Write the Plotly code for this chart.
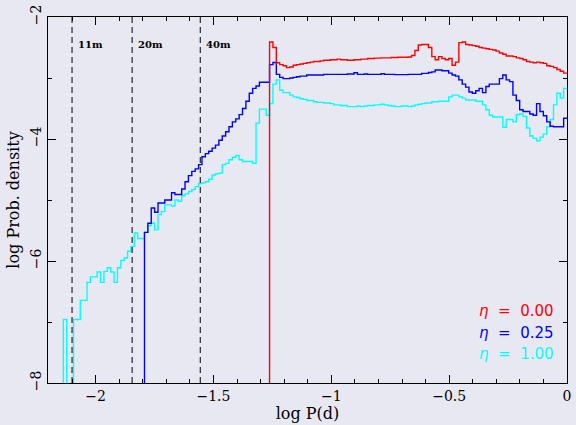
import plotly.graph_objects as go

# Histogram binning in log10 P (days)
BIN_W = 0.014341
START_RED = -1.2620
START_BLUE = -1.7926
START_CYAN = -2.1368
EMPTY = -9.0  # empty bin (log of zero), falls below the frame

# log probability density per bin
RED = [-2.41, -2.50, -2.75, -2.78, -2.80, -2.83, -2.82, -2.79, -2.78, -2.77,
       -2.76, -2.75, -2.74, -2.73, -2.73, -2.72, -2.71, -2.71, -2.70, -2.70,
       -2.69, -2.70, -2.70, -2.71, -2.71, -2.70, -2.70, -2.69, -2.69, -2.68,
       -2.68, -2.675, -2.675, -2.67, -2.67, -2.67, -2.665, -2.665, -2.66, -2.66,
       -2.66, -2.655, -2.63, -2.55, -2.46, -2.45, -2.45, -2.50, -2.65, -2.70,
       -2.65, -2.68, -2.70, -2.68, -2.79, -2.74, -2.42, -2.41, -2.45, -2.46,
       -2.47, -2.48, -2.50, -2.51, -2.52, -2.53, -2.54, -2.56, -2.59, -2.61,
       -2.64, -2.64, -2.65, -2.67, -2.68, -2.70, -2.73, -2.74, -2.75, -2.74,
       -2.75, -2.76, -2.80, -2.81, -2.83, -2.86, -2.89, -2.92]

BLUE = [-5.53, -5.38, -5.13, -5.20, -5.05, -5.05, -5.00, -5.00, -4.88, -4.91,
        -4.91, -4.82, -4.70, -4.60, -4.53, -4.49, -4.42, -4.29, -4.24, -4.20,
        -4.15, -4.10, -4.02, -3.95, -3.88, -3.80, -3.72, -3.67, -3.60, -3.50,
        -3.38, -3.25, -3.17, -3.13, -3.07, -3.07, -3.07, -2.78, -2.745, -2.94,
        -2.99, -3.01, -3.01, -3.00, -2.99, -2.98, -2.97, -2.97, -2.95, -2.95,
        -2.95, -2.95, -2.95, -2.94, -2.94, -2.94, -2.94, -2.94, -2.94, -2.94,
        -2.935, -2.935, -2.915, -2.94, -2.94, -2.935, -2.94, -2.94, -2.94, -2.94,
        -2.93, -2.94, -2.94, -2.94, -2.945, -2.945, -2.945, -2.945, -2.94, -2.94,
        -2.94, -2.94, -2.925, -2.925, -2.91, -2.90, -2.87, -2.87, -2.88, -2.88,
        -2.92, -2.95, -2.97, -3.03, -3.10, -3.15, -3.23, -3.25, -3.21, -3.17,
        -3.24, -3.14, -3.10, -3.10, -3.10, -3.01, -2.95, -3.03, -3.06, -3.28,
        -3.37, -3.52, -3.55, -3.55, -3.59, -3.61, -3.42, -3.55, -3.62, -3.72,
        -3.79, -3.80, -3.80, -3.80, -3.66]

CYAN = [-6.96, EMPTY, EMPTY, -6.96, -6.96, -6.645, -6.645, -6.35, -6.26, -6.26,
        -6.18, -6.35, -6.17, -6.11, -6.18, -6.35, -6.11, -5.99, -5.95, -5.84,
        -5.76, -5.54, -5.63, -5.63, -5.53, -5.42, -5.38, -5.49, -5.24, -5.19,
        -5.08, -5.08, -5.10, -5.00, -5.02, -4.93, -4.90, -4.86, -4.83, -4.78,
        -4.73, -4.72, -4.70, -4.66, -4.59, -4.57, -4.56, -4.42, -4.40, -4.34,
        -4.30, -4.27, -4.34, -4.37, -4.37, -4.37, -4.40, -3.74, -3.51, -3.51,
        -3.61, -3.42, -3.10, -3.03, -3.20, -3.24, -3.24, -3.28, -3.31, -3.32,
        -3.34, -3.35, -3.37, -3.37, -3.39, -3.40, -3.40, -3.41, -3.41, -3.42,
        -3.44, -3.44, -3.45, -3.45, -3.47, -3.47, -3.47, -3.46, -3.47, -3.46,
        -3.45, -3.45, -3.44, -3.44, -3.43, -3.44, -3.45, -3.46, -3.47, -3.47,
        -3.46, -3.46, -3.47, -3.46, -3.44, -3.43, -3.42, -3.41, -3.41, -3.39,
        -3.39, -3.38, -3.38, -3.38, -3.31, -3.28, -3.28, -3.31, -3.33, -3.36,
        -3.36, -3.36, -3.38, -3.38, -3.44, -3.52, -3.61, -3.64, -3.64, -3.64,
        -3.81, -3.68, -3.68, -3.72, -3.60, -3.59, -3.63, -3.82, -3.95, -3.99,
        -4.03, -3.97, -3.92, -3.80, -3.68, -3.44, -3.25, -3.33, -3.17]

ETA_LABELS = ["0.00", "0.25", "1.00"]
COLORS = ["#ff0000", "#0000ff", "#00ffff"]

# Orbital periods of reference, log10(P / d)
MARK_X = [-2.100, -1.845, -1.556]
MARK_TEXT = ["11m", "20m", "40m"]

BG = "#e8e8f2"
SERIF = "DejaVu Serif"


def step_xy(start, values):
    """Edges and heights for a histogram drawn as a stepped outline,
    rising from below the frame at its first edge."""
    n = len(values)
    edges = [start + i * BIN_W for i in range(n + 1)]
    xs = [edges[0]] + edges
    ys = [EMPTY] + list(values) + [values[-1]]
    return xs, ys


fig = go.Figure()

for start, vals, col in [(START_CYAN, CYAN, COLORS[2]),
                         (START_BLUE, BLUE, COLORS[1]),
                         (START_RED, RED, COLORS[0])]:
    xs, ys = step_xy(start, vals)
    fig.add_trace(go.Scatter(x=xs, y=ys, mode="lines", line_shape="hv",
                             line=dict(color=col, width=1.4),
                             showlegend=False, hoverinfo="skip"))

for xv, txt in zip(MARK_X, MARK_TEXT):
    fig.add_shape(type="line", xref="x", yref="paper", x0=xv, x1=xv, y0=0, y1=1,
                  line=dict(color="black", width=1, dash="6px,4px"))
    fig.add_annotation(x=xv, y=0.926, xref="x", yref="paper", text="<b>%s</b>" % txt,
                       showarrow=False, xanchor="left", yanchor="middle", xshift=4,
                       font=dict(family=SERIF, size=10, color="black"))

for i, (lab, col) in enumerate(zip(ETA_LABELS, COLORS)):
    fig.add_annotation(x=0.978, y=0.196 - i * 0.0585, xref="paper", yref="paper",
                       text="<i>η</i>  =  %s" % lab, showarrow=False,
                       xanchor="right", yanchor="middle",
                       font=dict(family="DejaVu Sans", size=15, color=col))

axis_common = dict(showline=True, linecolor="black", linewidth=1, mirror="allticks",
                   ticks="inside", ticklen=8, tickcolor="black", tickwidth=1,
                   showgrid=False, zeroline=False,
                   tickfont=dict(family=SERIF, size=14, color="black"))

fig.update_xaxes(range=[-2.202, 0], dtick=0.5, tick0=0,
                 minor=dict(dtick=0.1, tick0=0, ticks="inside", ticklen=4,
                            tickcolor="black", showgrid=False),
                 title=dict(text="log P(d)", font=dict(family=SERIF, size=16, color="black"),
                            standoff=2),
                 **axis_common)
fig.update_yaxes(range=[-8, -2], dtick=2, tick0=0, tickangle=-90,
                 minor=dict(dtick=1, tick0=0, ticks="inside", ticklen=4,
                            tickcolor="black", showgrid=False),
                 title=dict(text="log Prob. density", font=dict(family=SERIF, size=16, color="black"),
                            standoff=4),
                 **axis_common)

fig.update_layout(width=576, height=425, margin=dict(l=48, r=5, t=17, b=42),
                  paper_bgcolor=BG, plot_bgcolor=BG, showlegend=False)

fig.write_html("out.html")
